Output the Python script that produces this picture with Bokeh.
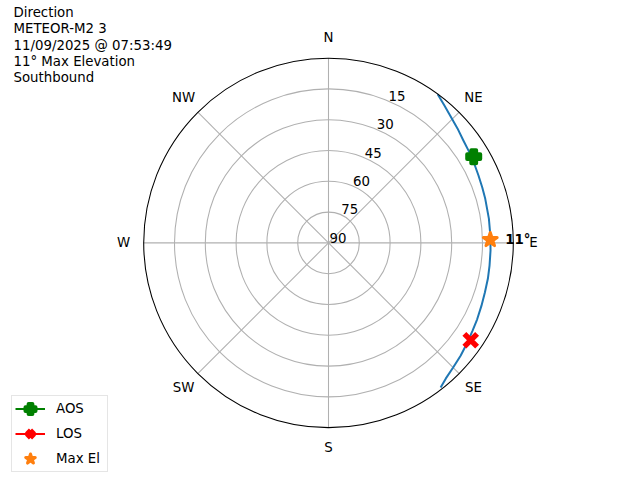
import numpy as np
from bokeh.plotting import figure
from bokeh.models import Label, Legend, LegendItem
from bokeh.core.properties import value
from bokeh.embed import file_html
from bokeh.resources import INLINE

# ---------------- data ----------------
title_lines = ["Direction", "METEOR-M2 3", "11/09/2025 @ 07:53:49",
               "11° Max Elevation", "Southbound"]
compass_labels = ["N", "NE", "E", "SE", "S", "SW", "W", "NW"]
compass_az = [0, 45, 90, 135, 180, 225, 270, 315]
ring_elev = [15, 30, 45, 60, 75]
ring_label_elev = [15, 30, 45, 60, 75, 90]
ring_labels = ["15", "30", "45", "60", "75", "90"]

# pass track (azimuth deg, elevation deg)
pass_az = [36.3, 40.0, 44.1, 48.4, 52.7, 57.1, 61.4, 65.7, 70.2, 74.3,
           81.4, 87.4, 92.7, 98.0, 102.6, 107.6, 112.4, 117.2, 121.4,
           126.3, 130.5, 135.0, 139.1, 142.2]
pass_el = [0.2, 2.4, 4.4, 6.0, 7.5, 8.4, 9.2, 9.9, 10.4, 10.7,
           11.0, 11.1, 11.0, 10.8, 10.45, 10.1, 9.45, 8.6, 7.85,
           6.6, 5.4, 4.15, 2.7, 0.9]

aos_az, aos_el = [59.3], [7.75]
los_az, los_el = [124.4], [6.05]
max_az, max_el = [88.9], [11.2]
max_label = ["11°"]

FONT = "DejaVu Sans"
FS = "13.33px"


def to_xy(az, el):
    a = np.radians(np.asarray(az, dtype=float))
    r = 90.0 - np.asarray(el, dtype=float)
    return r * np.sin(a), r * np.cos(a)


# ---------------- figure geometry ----------------
W, H = 632, 472
CX, CY = 328.0, 242.4          # centre in figure pixels (from top-left)
S = 184.8 / 90.0               # pixels per radial unit

p = figure(width=W, height=H, output_backend="svg", toolbar_location=None,
           x_range=(-CX / S, (W - CX) / S), y_range=(-(H - CY) / S, CY / S),
           x_axis_type=None, y_axis_type=None, min_border=0, title=None)
p.outline_line_color = None
p.grid.visible = False
p.background_fill_color = "white"
p.border_fill_color = "white"

# grid rings
p.circle(x=[0] * len(ring_elev), y=[0] * len(ring_elev),
         radius=[90 - e for e in ring_elev], fill_color=None,
         line_color="#b0b0b0", line_width=1.07)

# spokes
sx, sy = to_xy(compass_az, [0] * len(compass_az))
p.segment(x0=[0] * len(compass_az), y0=[0] * len(compass_az), x1=sx, y1=sy,
          line_color="#b0b0b0", line_width=1.07)

# pass track
px, py = to_xy(pass_az, pass_el)
p.line(px, py, line_color="#1f77b4", line_width=2, line_join="round")

# markers
ax_, ay_ = to_xy(aos_az, aos_el)
lx_, ly_ = to_xy(los_az, los_el)
mx_, my_ = to_xy(max_az, max_el)

aos_line = p.line(ax_, ay_, line_color="green", line_width=2)
aos_mark = p.scatter(ax_, ay_, marker="plus", size=13, fill_color="green",
                     line_color="green", line_width=4, line_join="round")
los_line = p.line(lx_, ly_, line_color="red", line_width=2)
los_mark = p.scatter(lx_, ly_, marker="x", size=18, line_color="red",
                     line_width=5.5)
max_mark = p.scatter(mx_, my_, marker="star", size=14.5, fill_color="#ff7f0e",
                     line_color="#ff7f0e", line_width=3, line_join="round")

# outer boundary
p.circle(x=[0], y=[0], radius=[90], fill_color=None, line_color="black",
         line_width=1.07)

# compass labels
cx_, cy_ = to_xy(compass_az, [-9.8] * len(compass_az))
p.text(cx_, cy_, text=compass_labels, text_align="center",
       text_baseline="middle", text_font=value(FONT), text_font_size=FS,
       text_color="black")

# radial labels
lab_x, lab_y = to_xy([22.5] * len(ring_label_elev), ring_label_elev)
p.text(lab_x, lab_y, text=ring_labels, text_align="left",
       text_baseline="bottom", text_font=value(FONT), text_font_size=FS,
       text_color="black", x_offset=1)

# max elevation label
p.text(mx_, my_, text=max_label, text_align="left", text_baseline="alphabetic",
       x_offset=15, y_offset=0, text_font=value(FONT), text_font_size=FS,
       text_font_style="bold", text_color="black")

# title block (top-left)
for i, line in enumerate(title_lines):
    p.add_layout(Label(x=13, y=H - (12.3 + 16.1 * i), x_units="screen",
                       y_units="screen", text=line, text_align="left",
                       text_baseline="middle", text_font=FONT,
                       text_font_size=FS, text_color="black"))

# legend
legend = Legend(items=[
    LegendItem(label="AOS", renderers=[aos_line, aos_mark]),
    LegendItem(label="LOS", renderers=[los_line, los_mark]),
    LegendItem(label="Max El", renderers=[max_mark]),
], location=(11, 0))
legend.glyph_width = 30
legend.glyph_height = 25
legend.label_height = 19
legend.label_width = 45
legend.label_standoff = 11
legend.padding = dict(left=3, right=6, top=0, bottom=0)
legend.spacing = 0
legend.margin = 0
legend.label_text_font = FONT
legend.label_text_font_size = FS
legend.label_text_color = "black"
legend.border_line_color = "#cccccc"
legend.border_line_width = 1
legend.background_fill_alpha = 0.8
p.add_layout(legend)

open("out.html", "w").write(file_html(p, INLINE))
